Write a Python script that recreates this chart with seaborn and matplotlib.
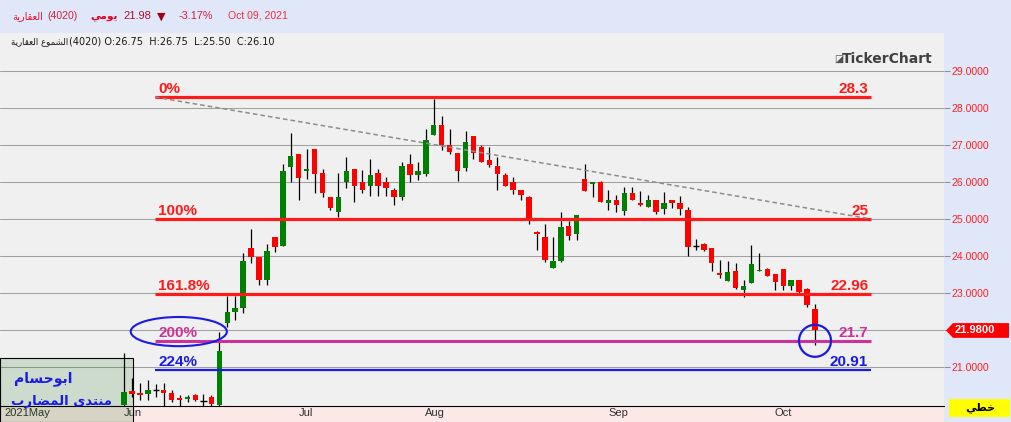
import matplotlib
matplotlib.use("Agg")
import matplotlib.pyplot as plt
import seaborn as sns
import numpy as np
import pandas as pd
from matplotlib.patches import Rectangle, Ellipse, Polygon
from matplotlib import transforms

# daily candles, Jun 2021 -> Oct 2021
opens = [19.95, 20.34, 20.29, 20.27, 20.36, 20.36, 20.29, 20.15, 20.12, 20.23,
         20.07, 20.19, 19.96, 22.17, 22.48, 22.58, 24.20, 23.96, 23.36, 24.50,
         24.26, 26.40, 26.75, 26.29, 26.90, 26.24, 25.60, 25.18, 25.99, 26.35,
         26.00, 25.88, 26.24, 26.00, 25.79, 25.59, 26.50, 26.18, 26.23, 27.28,
         27.55, 27.00, 26.79, 26.37, 27.25, 26.95, 26.60, 26.44, 26.20, 26.01,
         25.79, 25.60, 24.64, 24.50, 23.66, 23.87, 24.82, 24.60, 26.09, 25.94,
         26.01, 25.42, 25.50, 25.21, 25.71, 25.44, 25.32, 25.50, 25.26, 25.50,
         25.44, 25.25, 24.28, 24.31, 24.20, 23.54, 23.32, 23.59, 23.07, 23.27,
         23.58, 23.64, 23.51, 23.64, 23.18, 23.34, 23.10, 22.56]
highs = [21.38, 20.70, 20.56, 20.65, 20.52, 20.56, 20.36, 20.23, 20.23, 20.25,
         20.27, 20.23, 21.95, 22.92, 22.91, 24.08, 24.74, 23.96, 24.32, 24.50,
         26.50, 27.32, 26.75, 26.90, 26.90, 26.35, 25.60, 26.24, 26.68, 26.35,
         26.32, 26.62, 26.35, 26.14, 25.84, 26.55, 26.77, 26.54, 27.44, 28.24,
         27.79, 27.43, 26.79, 27.39, 27.25, 27.00, 26.96, 26.67, 26.25, 26.14,
         25.79, 25.63, 24.68, 24.87, 24.52, 25.20, 24.94, 25.12, 26.50, 26.01,
         26.04, 25.79, 25.66, 25.86, 25.86, 25.77, 25.66, 25.50, 25.74, 25.50,
         25.61, 25.32, 24.47, 24.36, 24.20, 23.88, 23.86, 23.82, 23.34, 24.29,
         24.08, 23.67, 23.51, 23.64, 23.36, 23.34, 23.14, 22.69]
lows = [19.93, 20.19, 20.09, 20.09, 20.17, 19.94, 20.05, 19.94, 20.05, 20.06,
        19.94, 19.94, 19.93, 22.08, 22.26, 22.46, 23.81, 23.21, 23.21, 24.11,
        24.26, 25.99, 25.50, 26.09, 25.70, 25.60, 25.25, 25.05, 25.84, 25.45,
        25.70, 25.63, 25.63, 25.63, 25.39, 25.51, 25.99, 26.06, 26.15, 27.28,
        26.87, 26.75, 26.04, 26.29, 26.63, 26.53, 26.42, 25.79, 25.88, 25.68,
        25.50, 24.87, 24.17, 23.83, 23.66, 23.83, 24.42, 24.44, 25.75, 25.59,
        25.45, 25.23, 25.18, 25.10, 25.50, 25.34, 25.32, 25.13, 25.13, 25.29,
        25.10, 23.99, 24.15, 24.13, 23.60, 23.40, 23.32, 23.09, 22.89, 23.27,
        23.58, 23.46, 23.07, 23.07, 23.07, 22.98, 22.62, 21.59]
closes = [20.32, 20.27, 20.22, 20.36, 20.36, 20.29, 20.11, 20.10, 20.17, 20.09,
          20.07, 19.99, 21.43, 22.49, 22.60, 23.87, 23.96, 23.36, 24.12, 24.23,
          26.31, 26.71, 26.10, 26.36, 26.23, 25.70, 25.30, 25.60, 26.31, 25.88,
          25.79, 26.20, 25.88, 25.83, 25.59, 26.44, 26.18, 26.31, 27.14, 27.55,
          26.99, 26.80, 26.29, 27.09, 26.78, 26.53, 26.47, 26.23, 25.88, 25.79,
          25.66, 24.94, 24.58, 23.90, 23.87, 24.79, 24.55, 25.12, 25.77, 26.01,
          25.45, 25.50, 25.37, 25.71, 25.50, 25.37, 25.50, 25.18, 25.44, 25.42,
          25.26, 24.23, 24.28, 24.17, 23.80, 23.47, 23.56, 23.12, 23.18, 23.78,
          23.62, 23.46, 23.30, 23.18, 23.34, 23.03, 22.67, 21.98]

month_labels = ["2021May", "Jun", "Jul", "Aug", "Sep", "Oct"]
month_pos = [-15, 0, 22, 38, 61, 82]

fib_pcts = ["0%", "100%", "161.8%", "200%", "224%"]
fib_levels = [28.3, 25.0, 22.96, 21.7, 20.91]
fib_texts = ["28.3", "25", "22.96", "21.7", "20.91"]
fib_colors = ["#ff1a1a", "#ff1a1a", "#ff1a1a", "#cc3399", "#1a1ae6"]
fib_widths = [2.3, 2.3, 2.3, 2.2, 1.6]

price_ticks = [21, 22, 23, 24, 25, 26, 27, 28, 29]

# --- minimal arabic shaping (matplotlib draws glyphs unjoined, LTR) ---
AR = {
    '\u0627': (0xFE8D, 0xFE8E, None, None), '\u0628': (0xFE8F, 0xFE90, 0xFE91, 0xFE92),
    '\u0629': (0xFE93, 0xFE94, None, None), '\u062A': (0xFE95, 0xFE96, 0xFE97, 0xFE98),
    '\u062D': (0xFEA1, 0xFEA2, 0xFEA3, 0xFEA4), '\u062E': (0xFEA5, 0xFEA6, 0xFEA7, 0xFEA8),
    '\u062F': (0xFEA9, 0xFEAA, None, None), '\u0631': (0xFEAD, 0xFEAE, None, None),
    '\u0633': (0xFEB1, 0xFEB2, 0xFEB3, 0xFEB4), '\u0634': (0xFEB5, 0xFEB6, 0xFEB7, 0xFEB8),
    '\u0636': (0xFEBD, 0xFEBE, 0xFEBF, 0xFEC0), '\u0637': (0xFEC1, 0xFEC2, 0xFEC3, 0xFEC4),
    '\u0639': (0xFEC9, 0xFECA, 0xFECB, 0xFECC), '\u0642': (0xFED5, 0xFED6, 0xFED7, 0xFED8),
    '\u0644': (0xFEDD, 0xFEDE, 0xFEDF, 0xFEE0), '\u0645': (0xFEE1, 0xFEE2, 0xFEE3, 0xFEE4),
    '\u0646': (0xFEE5, 0xFEE6, 0xFEE7, 0xFEE8), '\u0648': (0xFEED, 0xFEEE, None, None),
    '\u0649': (0xFEEF, 0xFEF0, None, None), '\u064A': (0xFEF1, 0xFEF2, 0xFEF3, 0xFEF4),
}


def ar(text):
    out = []
    for i, ch in enumerate(text):
        f = AR.get(ch)
        if f is None:
            out.append(ch)
            continue
        prev = AR.get(text[i - 1]) if i > 0 else None
        nxt = AR.get(text[i + 1]) if i + 1 < len(text) else None
        jp = prev is not None and prev[2] is not None
        jn = f[2] is not None and nxt is not None
        if jp and jn:
            code = f[3]
        elif jp:
            code = f[1]
        elif jn:
            code = f[2]
        else:
            code = f[0]
        out.append(chr(code))
    return ''.join(reversed(out))


sns.set_style("white", {"axes.facecolor": "#f0f0f0"})
plt.rcParams['font.family'] = ['Liberation Sans', 'DejaVu Sans']

W, H = 1012, 422
fig = plt.figure(figsize=(W / 100, H / 100), dpi=100)
fig.patch.set_facecolor('#f0f0f0')
ax = fig.add_axes([0, 16 / H, 944 / W, 373 / H])


def ftext(xp, yp, s, **kw):
    fig.text(xp / W, 1 - yp / H, s, **kw)


# background strips
fig.add_artist(Rectangle((0, 1 - 33 / H), 1, 33 / H, transform=fig.transFigure,
                         fc='#dfe7f8', ec='none', zorder=-1))
fig.add_artist(Rectangle((944 / W, 0), 68 / W, 1 - 33 / H, transform=fig.transFigure,
                         fc='#dfe7f8', ec='none', zorder=-1))
fig.add_artist(Rectangle((0, 0), 944 / W, 16 / H, transform=fig.transFigure,
                         fc='#fde8e8', ec='none', zorder=-1))

df = pd.DataFrame({"o": opens, "h": highs, "l": lows, "c": closes})
df["x"] = np.arange(len(df))
df["lo"] = df[["o", "c"]].min(axis=1)
df["size"] = (df["c"] - df["o"]).abs()
df["col"] = np.where(df["c"] >= df["o"], "#008000", "#ff0000")
doji = df["size"] < 0.01

ax.vlines(df["x"], df["l"], df["h"], color="black", lw=0.9, zorder=3)
body = df[~doji]
ax.bar(body["x"], body["size"], bottom=body["lo"], width=0.68,
       color=body["col"], linewidth=0, zorder=4)
ax.hlines(df.loc[doji, "c"], df.loc[doji, "x"] - 0.4, df.loc[doji, "x"] + 0.4,
          color="black", lw=1.0, zorder=4)

# fibonacci levels
x0, x1 = 3.9, 94.05
for pct, lev, txt, col, lw in zip(fib_pcts, fib_levels, fib_texts, fib_colors, fib_widths):
    ax.hlines(lev, x0, x1, color=col, lw=lw, zorder=5)
    ax.text(x0 + 0.4, lev + 0.115, pct, color=col, fontsize=11, fontweight='bold',
            ha='left', va='baseline', zorder=6)
    ax.text(x1 - 0.35, lev + 0.115, txt, color=col, fontsize=11, fontweight='bold',
            ha='right', va='baseline', zorder=6)

ax.plot([x0, x1], [fib_levels[0], fib_levels[1]], color='#8c8c8c', lw=1.1,
        ls=(0, (3, 2)), zorder=5)

# highlight marks
ax.add_patch(Ellipse((x0 + 3.0, fib_levels[3] + 0.25), 12.1, 0.79, fill=False,
                     ec='#1a1ae6', lw=1.5, zorder=7))
ax.add_patch(Ellipse((len(df) - 1, fib_levels[3]), 4.03, 0.866, fill=False,
                     ec='#1a1ae6', lw=1.6, zorder=7))

# watermark box
ax.add_artist(Rectangle((0, 0), 133 / W, 64 / H, transform=fig.transFigure,
                        fc=(0, 0.39, 0, 0.15), ec='black', lw=0.8, clip_on=False, zorder=1))

ax.set_xlim(-15.61, 103.24)
ax.set_ylim(19.935, 30.035)

# axes styling; the 22 label sits under the last-price badge
last = closes[-1]
ax.yaxis.tick_right()
ax.set_yticks(price_ticks)
ax.set_yticklabels(["" if abs(v - last) < 0.5 else f"{v:.4f}" for v in price_ticks])
ax.tick_params(axis='y', direction='out', length=4.3, width=0.75, color='#909090',
               labelcolor='#ff2020', labelsize=7.6, pad=1.2)
ax.grid(axis='y', color='#a0a0a0', lw=0.75)
ax.set_axisbelow(True)

ax.set_xticks(np.array(month_pos) - 0.05)
ax.set_xticklabels(month_labels)
ax.tick_params(axis='x', direction='in', length=3, width=0.75, color='#909090',
               labelcolor='#303030', labelsize=8, pad=1.5)
for lab in ax.get_xticklabels():
    lab.set_ha('left')
for s in ['top', 'left', 'right']:
    ax.spines[s].set_visible(False)
ax.spines['bottom'].set_color('black')
ax.spines['bottom'].set_linewidth(0.8)

# last price badge
bt = transforms.blended_transform_factory(ax.transAxes, ax.transData)
hh = 0.2
ax.add_patch(Polygon([(1.0021, last), (1.0095, last + hh), (1.0689, last + hh),
                      (1.0689, last - hh), (1.0095, last - hh)], closed=True,
                     transform=bt, fc='#ff0000', ec='none', clip_on=False, zorder=8))
ax.text(1.0117, last, f"{last:.4f}", transform=bt, color='white', fontsize=8,
        fontweight='bold', ha='left', va='center', clip_on=False, zorder=9)

# header
ftext(12, 16, ar("العقارية"), color='#e8102a', fontsize=7, family='DejaVu Sans', va='center')
ftext(47, 16, "(4020)", color='#d0203c', fontsize=7.6, va='center')
ftext(90, 16, ar("يومي"), color='#e00020', fontsize=7.5, family='DejaVu Sans',
      fontweight='bold', va='center')
ftext(123, 16, "21.98", color='#b01030', fontsize=8, va='center')
ftext(157, 16.5, "\u25BC", color='#a00010', fontsize=8, family='DejaVu Sans', va='center')
ftext(179, 16, "-3.17%", color='#d0203c', fontsize=7.8, va='center')
ftext(228, 16, "Oct 09, 2021", color='#f03040', fontsize=7.6, va='center')

ftext(11, 42, ar("الشموع العقارية"), color='#1a1a1a', fontsize=6.2, family='DejaVu Sans',
      va='center')
ftext(69, 42, "(4020) O:26.75  H:26.75  L:25.50  C:26.10", color='#1a1a1a',
      fontsize=7, family='DejaVu Sans', va='center')

ftext(834, 59, "\u25EA", color='#505050', fontsize=7, family='DejaVu Sans', va='center')
ftext(842, 59, "TickerChart", color='#404040', fontsize=10, family='DejaVu Sans',
      fontweight='bold', va='center')

# watermark text
ftext(14, 379, ar("ابوحسام"), color='#1a1ae6', fontsize=10, family='DejaVu Sans',
      fontweight='bold', va='center')
ftext(11, 401, ar("منتدى المضارب"), color='#1a1ae6', fontsize=9.5, family='DejaVu Sans',
      fontweight='bold', va='center')

# bottom-right chart type box
fig.add_artist(Rectangle((949 / W, 1 - 417 / H), 61 / W, 18 / H, transform=fig.transFigure,
                         fc='#ffff00', ec='none', zorder=2))
ftext(980, 408, ar("خطي"), color='black', fontsize=8, family='DejaVu Sans',
      fontweight='bold', ha='center', va='center', zorder=3)

fig.savefig("out.png", dpi=100)
